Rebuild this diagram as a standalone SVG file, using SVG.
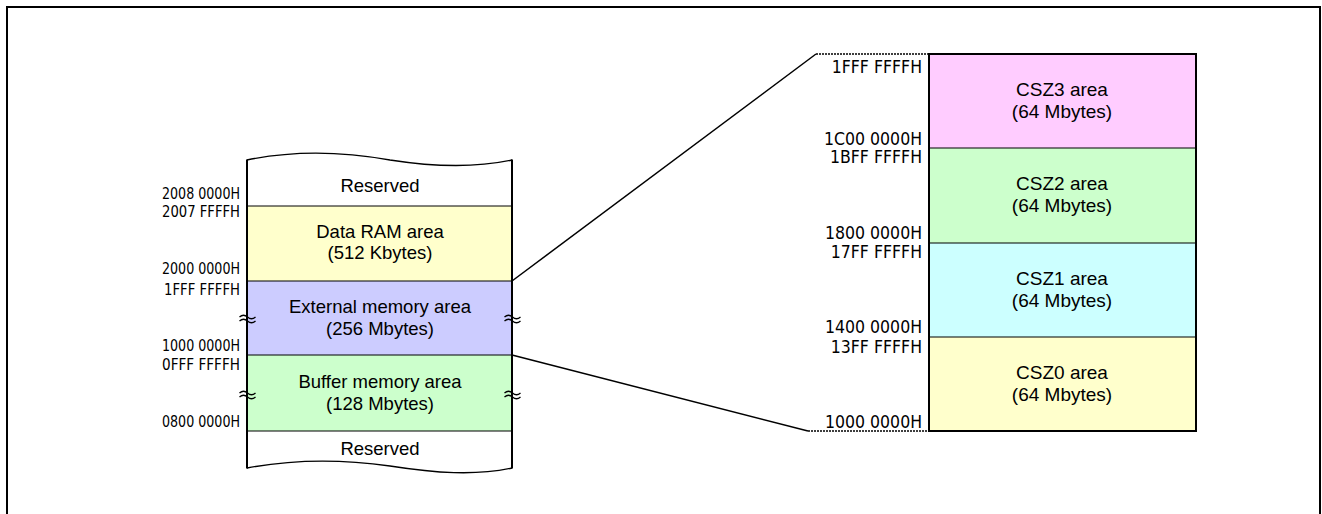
<svg xmlns="http://www.w3.org/2000/svg" width="1322" height="514" viewBox="0 0 1322 514">
<style>
text{font-family:"Liberation Sans",Arial,sans-serif;font-size:18.5px;fill:#000}
.addr{text-anchor:end;font-family:"DejaVu Sans Condensed","DejaVu Sans",sans-serif;font-stretch:condensed;font-size:15.5px}
.raddr{font-size:17.5px}
.r{font-size:19px}
.mid{text-anchor:middle}
.div{stroke:#000;stroke-width:1}
.edge{stroke:#000;stroke-width:2;fill:none}
.tl{stroke:#000;stroke-width:1.3;fill:none}
</style>
<rect x="7" y="7" width="1313" height="520" fill="#fff" stroke="#000" stroke-width="2"/>
<g id="left-map">
<path d="M247,160 C295,150 340,151 390,160 C435,167 475,168 512,160 L512,468 C475,476 435,473 390,466 C340,459 295,459 247,468 Z" fill="#fff"/>
<rect x="247" y="206" width="265" height="75" fill="#FFFFCC"/>
<rect x="247" y="281" width="265" height="74" fill="#CCCCFF"/>
<rect x="247" y="355" width="265" height="76" fill="#CCFFCC"/>
<line class="div" x1="247" y1="206" x2="512" y2="206"/>
<line class="div" x1="247" y1="281" x2="512" y2="281"/>
<line class="div" x1="247" y1="355" x2="512" y2="355"/>
<line class="div" x1="247" y1="431" x2="512" y2="431"/>
<path class="tl" d="M247,160 C295,150 340,151 390,160 C435,167 475,168 512,160"/>
<path class="tl" d="M247,468 C295,459 340,459 390,466 C435,473 475,476 512,468"/>
<line class="edge" x1="247" y1="159.5" x2="247" y2="468.5"/>
<line class="edge" x1="512" y1="159.5" x2="512" y2="468.5"/>
<g id="tildes">
<path class="tl" d="M239.5,317 q4,-3.5 8,0 t8,0 M239.5,321 q4,-3.5 8,0 t8,0"/>
<path class="tl" d="M504.5,317 q4,-3.5 8,0 t8,0 M504.5,321 q4,-3.5 8,0 t8,0"/>
<path class="tl" d="M239.5,393 q4,-3.5 8,0 t8,0 M239.5,397 q4,-3.5 8,0 t8,0"/>
<path class="tl" d="M504.5,393 q4,-3.5 8,0 t8,0 M504.5,397 q4,-3.5 8,0 t8,0"/>
</g>
<text class="mid" x="380" y="192">Reserved</text>
<text class="mid" x="380" y="238">Data RAM area</text>
<text class="mid" x="380" y="259">(512 Kbytes)</text>
<text class="mid" x="380" y="313">External memory area</text>
<text class="mid" x="380" y="335">(256 Mbytes)</text>
<text class="mid" x="380" y="388">Buffer memory area</text>
<text class="mid" x="380" y="410">(128 Mbytes)</text>
<text class="mid" x="380" y="455">Reserved</text>
<text class="addr" x="240" y="199" textLength="78" lengthAdjust="spacingAndGlyphs">2008 0000H</text>
<text class="addr" x="240" y="217" textLength="78" lengthAdjust="spacingAndGlyphs">2007 FFFFH</text>
<text class="addr" x="240" y="274" textLength="78" lengthAdjust="spacingAndGlyphs">2000 0000H</text>
<text class="addr" x="240" y="295" textLength="76" lengthAdjust="spacingAndGlyphs">1FFF FFFFH</text>
<text class="addr" x="240" y="351" textLength="78" lengthAdjust="spacingAndGlyphs">1000 0000H</text>
<text class="addr" x="240" y="370" textLength="78" lengthAdjust="spacingAndGlyphs">0FFF FFFFH</text>
<text class="addr" x="240" y="427" textLength="78" lengthAdjust="spacingAndGlyphs">0800 0000H</text>
</g>
<g id="connectors">
<line x1="512" y1="281" x2="816" y2="54" stroke="#000" stroke-width="1.5"/>
<line x1="816" y1="54" x2="929" y2="54" stroke="#000" stroke-width="1.5" stroke-dasharray="2,1"/>
<line x1="512" y1="355" x2="808" y2="431" stroke="#000" stroke-width="1.5"/>
<line x1="808" y1="431" x2="929" y2="431" stroke="#000" stroke-width="1.5" stroke-dasharray="2,1"/>
</g>
<g id="right-map">
<rect x="929" y="54" width="267" height="94" fill="#FFCCFF"/>
<rect x="929" y="148" width="267" height="95" fill="#CCFFCC"/>
<rect x="929" y="243" width="267" height="94" fill="#CCFFFF"/>
<rect x="929" y="337" width="267" height="94" fill="#FFFFCC"/>
<line class="div" x1="929" y1="148" x2="1196" y2="148"/>
<line class="div" x1="929" y1="243" x2="1196" y2="243"/>
<line class="div" x1="929" y1="337" x2="1196" y2="337"/>
<rect x="929" y="54" width="267" height="377" fill="none" stroke="#000" stroke-width="2"/>
<text class="mid r" x="1062" y="96">CSZ3 area</text>
<text class="mid r" x="1062" y="118">(64 Mbytes)</text>
<text class="mid r" x="1062" y="190">CSZ2 area</text>
<text class="mid r" x="1062" y="212">(64 Mbytes)</text>
<text class="mid r" x="1062" y="285">CSZ1 area</text>
<text class="mid r" x="1062" y="307">(64 Mbytes)</text>
<text class="mid r" x="1062" y="379">CSZ0 area</text>
<text class="mid r" x="1062" y="401">(64 Mbytes)</text>
<text class="addr raddr" x="922" y="73">1FFF FFFFH</text>
<text class="addr raddr" x="922" y="145">1C00 0000H</text>
<text class="addr raddr" x="922" y="163">1BFF FFFFH</text>
<text class="addr raddr" x="922" y="239">1800 0000H</text>
<text class="addr raddr" x="922" y="258">17FF FFFFH</text>
<text class="addr raddr" x="922" y="333">1400 0000H</text>
<text class="addr raddr" x="922" y="353">13FF FFFFH</text>
<text class="addr raddr" x="922" y="428">1000 0000H</text>
</g>
</svg>
